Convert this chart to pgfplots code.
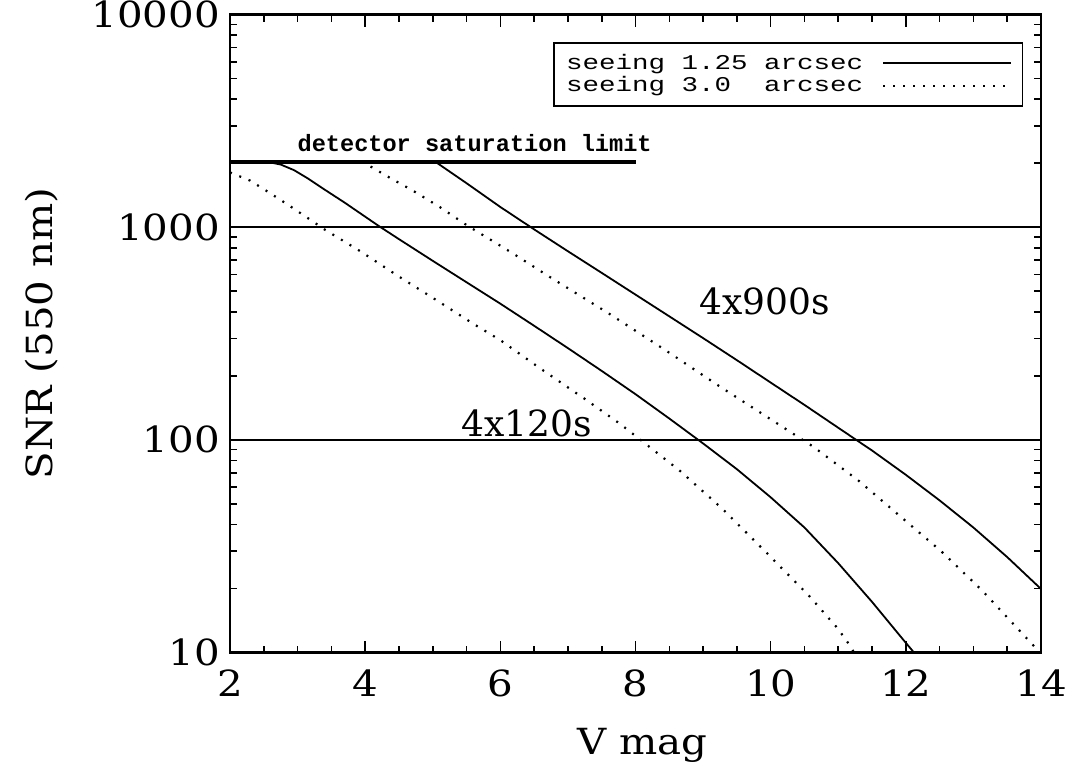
\documentclass[border=0pt]{standalone}
\usepackage{pgfplots}
\pgfplotsset{compat=1.18}
\usepackage{fontspec}
\setmainfont{DejaVu Serif}[FakeStretch=1.12]
\newfontfamily\plainserif{DejaVu Serif}
\newfontfamily\legfont[FakeStretch=1.31]{Liberation Mono}
\newfontfamily\detfont{Liberation Mono}
\begin{document}
\begin{tikzpicture}
\begin{axis}[
  at={(115pt,54.75pt)}, anchor=south west,
  scale only axis, width=405.5pt, height=318.95pt,
  xmin=2, xmax=14, ymin=10, ymax=10000, ymode=log,
  xtick={2,4,6,8,10,12,14}, xticklabels={2,4,6,8,10,12,14},
  minor x tick num=3,
  ytick={10,100,1000,10000}, yticklabels={10,100,1000,10000},
  tick label style={font=\fontsize{18}{20}\selectfont},
  xticklabel style={yshift=-5pt},
  yticklabel style={xshift=-1.5pt},
  major tick length=6pt, minor tick length=3.5pt,
  every tick/.style={black, line width=0.8pt},
  axis line style={line width=1.2pt},
  xlabel={V mag}, ylabel={SNR (550 nm)},
  label style={font=\fontsize{18}{20}\selectfont},
  xlabel style={at={(axis description cs:0.509,-0.145)},anchor=center},
  ylabel style={at={(axis description cs:-0.232,0.5)},anchor=center},
  legend plot pos=right, legend cell align=left,
  legend image code/.code={\draw[#1] (0pt,0pt) -- (56pt,0pt); \path (0pt,0pt) -- (64pt,0pt);},
  legend style={at={(rel axis cs:0.978,0.957)}, anchor=north east,
    draw=black, line width=0.8pt, font=\legfont\fontsize{10.5}{11.5}\selectfont,
    nodes={inner sep=1pt}, column sep=8.5pt, row sep=0.3pt,
    inner xsep=5pt, inner ysep=4.5pt},
]
% saturation limit and reference lines
\addplot[forget plot, black, line width=2pt] coordinates {(2,2030) (8,2030)};
\addplot[forget plot, black, line width=1.2pt] coordinates {(2,1000) (14,1000)};
\addplot[forget plot, black, line width=1.2pt] coordinates {(2,100) (14,100)};

% 4x120s, seeing 1.25
\addplot[black, line width=0.9pt] coordinates {
(2.0,2030) (2.55,2030) (2.75,1972) (2.95,1854) (3.15,1698) (3.40,1503)
(3.70,1303) (4.20,1014) (4.5,879) (5.0,695) (5.5,551) (6.0,437)
(6.5,344) (7.0,270) (7.5,211) (8.0,164) (8.5,126) (9.0,96.2)
(9.5,72.8) (10.0,53.7) (10.5,38.7) (11.0,26.3) (11.5,17.3) (12.0,11.1) (12.12,10)
};
\addlegendentry{seeing 1.25 arcsec}

% 4x120s, seeing 3.0
\addplot[black, line width=1.1pt, dash pattern=on 1pt off 4pt] coordinates {
(2.0,1810) (2.13,1742) (2.30,1656) (2.56,1469) (2.86,1274) (3.25,1052)
(3.39,980) (3.94,767) (4.50,586) (5.05,455) (5.61,350) (6.01,293)
(6.57,219) (7.11,167) (7.26,155) (7.77,119) (8.04,102) (8.66,71.4)
(9.28,47.6) (9.97,28.8) (10.09,26.3) (10.56,18.6) (10.99,13.0) (11.19,10.6) (11.23,10)
};
\addlegendentry{seeing 3.0\ \ arcsec}

% 4x900s, seeing 1.25
\addplot[forget plot, black, line width=0.9pt] coordinates {
(4.75,2030) (5.04,2030) (5.5,1611) (6.0,1245) (6.5,977) (7.0,771)
(7.5,610) (8.0,482) (8.5,381) (9.0,301) (9.5,237) (10.0,186)
(10.5,146) (11.0,114) (11.5,89.1) (12.0,68.5) (12.5,51.9) (13.0,38.7)
(13.5,28.1) (14.0,19.9)
};

% 4x900s, seeing 3.0
\addplot[forget plot, black, line width=1.1pt, dash pattern=on 1pt off 4pt] coordinates {
(4.08,1930) (4.40,1683) (4.69,1497) (5.11,1241) (5.52,1014) (5.94,841)
(6.20,748) (6.76,576) (7.60,394) (8.42,267) (9.25,178) (10.33,107)
(10.63,92.9) (11.29,64.7) (11.91,43.9) (12.53,29.8) (13.12,19.7)
(13.68,12.7) (13.91,10.6) (14.0,10.0)
};

\node[font=\plainserif\fontsize{18}{20}\selectfont] at (axis cs:9.91,450) {4x900s};
\node[font=\plainserif\fontsize{18}{20}\selectfont] at (axis cs:6.39,120) {4x120s};
\node[font=\detfont\bfseries\fontsize{11.8}{13}\selectfont] at (axis cs:5.62,2477) {detector saturation limit};
\end{axis}
\pgfresetboundingbox
\useasboundingbox (0,0) rectangle (534pt,381pt);
\end{tikzpicture}
\end{document}
